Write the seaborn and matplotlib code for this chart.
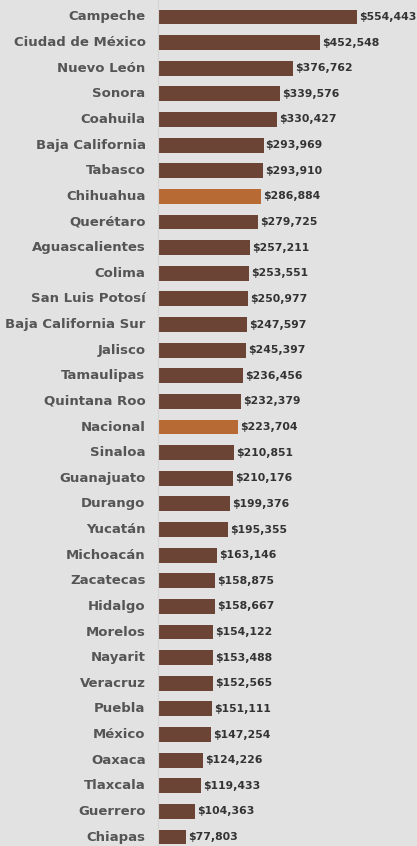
import matplotlib
matplotlib.use("Agg")
import matplotlib.pyplot as plt
import seaborn as sns
import pandas as pd

estados = ["Campeche", "Ciudad de México", "Nuevo León", "Sonora", "Coahuila",
           "Baja California", "Tabasco", "Chihuahua", "Querétaro", "Aguascalientes",
           "Colima", "San Luis Potosí", "Baja California Sur", "Jalisco", "Tamaulipas",
           "Quintana Roo", "Nacional", "Sinaloa", "Guanajuato", "Durango", "Yucatán",
           "Michoacán", "Zacatecas", "Hidalgo", "Morelos", "Nayarit", "Veracruz",
           "Puebla", "México", "Oaxaca", "Tlaxcala", "Guerrero", "Chiapas"]
valores = [554443, 452548, 376762, 339576, 330427, 293969, 293910, 286884, 279725,
           257211, 253551, 250977, 247597, 245397, 236456, 232379, 223704, 210851,
           210176, 199376, 195355, 163146, 158875, 158667, 154122, 153488, 152565,
           151111, 147254, 124226, 119433, 104363, 77803]
destacados = ["Chihuahua", "Nacional"]

BG = "#e2e2e2"
BAR = "#6b4436"
HL = "#b86a35"

df = pd.DataFrame({"estado": estados, "valor": valores})
palette = {e: (HL if e in destacados else BAR) for e in estados}

sns.set_theme(style="white")
plt.rcParams["font.family"] = ["DejaVu Sans"]

W, H = 417, 846
fig = plt.figure(figsize=(W / 100, H / 100), dpi=100, facecolor=BG)
ax = fig.add_axes([158 / W, 0, (W - 158) / W, 1])
ax.set_facecolor(BG)

sns.barplot(data=df, x="valor", y="estado", hue="estado", palette=palette,
            legend=False, orient="h", width=0.58, ax=ax, saturation=1,
            edgecolor="none")

xmax = 554443 * (W - 158) / 199
ax.set_xlim(0, xmax)
ax.set_ylim(32.35, -0.663)

for i, v in enumerate(valores):
    ax.text(v + xmax * 0.008, i, f"${v:,}", va="center", ha="left",
            fontsize=7.8, fontweight="bold", color="#333333", clip_on=False)

ax.set_xlabel("")
ax.set_ylabel("")
ax.set_xticks([])
ax.tick_params(axis="y", length=0, pad=9)
for lab in ax.get_yticklabels():
    lab.set_fontweight("bold")
    lab.set_fontsize(9.5)
    lab.set_color("#555555")
    lab.set_verticalalignment("center")
for s in ["top", "right", "bottom"]:
    ax.spines[s].set_visible(False)
ax.spines["left"].set_color("#d4d4d4")
ax.spines["left"].set_linewidth(0.8)

fig.savefig("out.png", dpi=100, facecolor=BG)
